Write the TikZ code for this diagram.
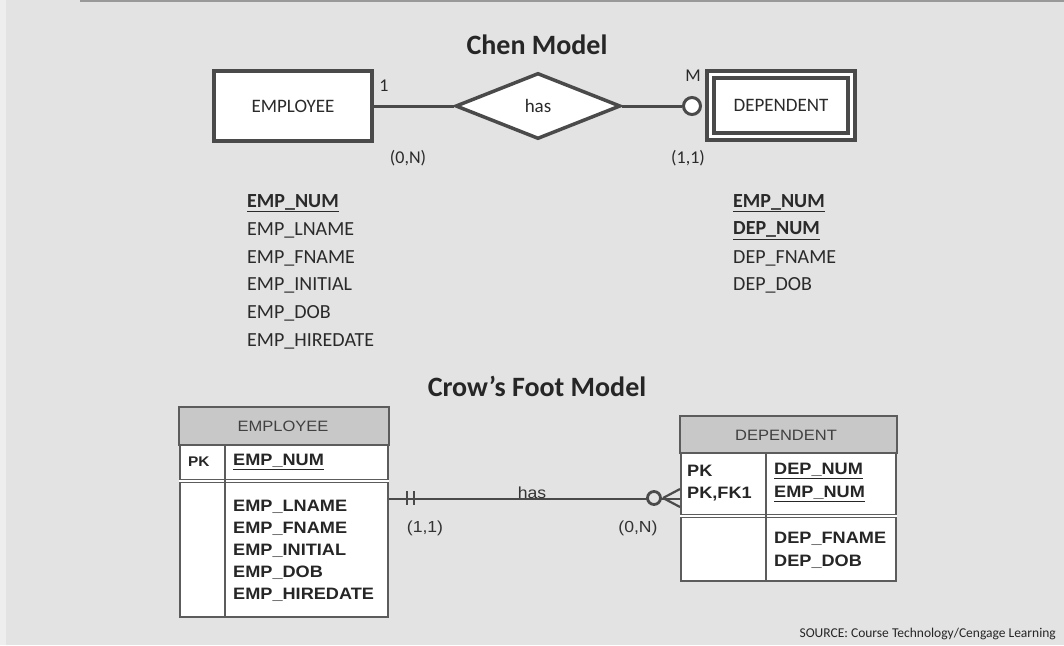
\documentclass[tikz,border=0pt]{standalone}
\usepackage{fontspec}
\setmainfont{Carlito}
\newfontfamily\tabfont[FakeStretch=1.1]{Liberation Sans}
\usepackage{xcolor}
\usepackage{tikz}
\usetikzlibrary{shapes.geometric}

\definecolor{bggray}{HTML}{E3E3E3}
\definecolor{lngray}{HTML}{4A4A4A}
\definecolor{hdgray}{HTML}{C8C8C8}
\definecolor{txgray}{HTML}{2A2A2A}

\begin{document}
\begin{tikzpicture}[x=1pt,y=1pt,
  chenbox/.style={draw=lngray,line width=3.5pt,fill=white,inner sep=0pt,
    minimum width=158pt,minimum height=70pt,text=txgray,font=\fontsize{19}{22}\selectfont},
  chenline/.style={draw=lngray,line width=3pt},
  chenlbl/.style={text=txgray,font=\fontsize{18}{20}\selectfont,inner sep=0pt},
  attr/.style={anchor=west,text=txgray,font=\fontsize{20}{22}\selectfont,inner sep=0pt},
  ttl/.style={text=black!85,font=\fontsize{28}{30}\selectfont\bfseries},
  tabbox/.style={draw=lngray!90,line width=1.8pt,fill=white,inner sep=0pt,anchor=north west},
  tabline/.style={draw=lngray!90,line width=1.8pt},
  tabtxt/.style={anchor=west,inner sep=0pt,text=black!85,font=\tabfont\fontsize{16.5}{18}\selectfont\bfseries},
  tabhead/.style={inner sep=0pt,text=black!75,font=\tabfont\fontsize{15}{17}\selectfont},
  relline/.style={draw=lngray,line width=2.8pt},
  rellbl/.style={inner sep=0pt,text=black!80,font=\tabfont\fontsize{16}{18}\selectfont}]
\useasboundingbox (0,0) rectangle (1064,-645);
% background
\fill[bggray] (0,0) rectangle (1064,-645);
\fill[white!40!bggray] (0,0) rectangle (6,-645);
\draw[gray!80,line width=2pt] (80,-1) -- (1064,-1);

% Chen model
\node[ttl] (chenttl) at (537,-45) {Chen Model};
\node[chenbox] (empc) at (293,-106) {EMPLOYEE};
\node[chenbox,line width=4pt,minimum width=148pt,minimum height=69pt] (depo) at (781,-105.5) {};
\node[chenbox,line width=4pt,minimum width=134pt,minimum height=55pt] (depc) at (depo) {DEPENDENT};
\node[diamond,aspect=2.5,draw=lngray,line width=3.5pt,fill=white,inner sep=0pt,
  minimum width=165pt,minimum height=66pt,text=txgray,font=\fontsize{19}{22}\selectfont] (hasd) at (538,-106) {has};
\node[circle,draw=lngray,line width=3pt,fill=white,minimum size=17pt,inner sep=0pt] (optc) at (692,-106) {};
\draw[chenline] (empc.east) -- (hasd.west);
\draw[chenline] (hasd.east) -- (optc.west);
\node[chenlbl] (one) at (384,-86) {1};
\node[chenlbl] (mmany) at (693,-76) {M};
\node[chenlbl] (empcard) at (408,-158) {(0,N)};
\node[chenlbl] (depcard) at (688,-158) {(1,1)};

% Chen attributes
\foreach \t [count=\i] in {{\bfseries\underline{EMP\_NUM}},EMP\_LNAME,EMP\_FNAME,EMP\_INITIAL,EMP\_DOB,EMP\_HIREDATE}
  \node[attr] (ea\i) at (247,-203-27.6*\i+27.6) {\t};
\foreach \t [count=\i] in {{\bfseries\underline{EMP\_NUM}},{\bfseries\underline{DEP\_NUM}},DEP\_FNAME,DEP\_DOB}
  \node[attr] (da\i) at (733,-203-27.6*\i+27.6) {\t};

% Crow's foot model
\node[ttl] (crowttl) at (537,-386) {Crow’s Foot Model};

% EMPLOYEE table
\node[tabbox,minimum width=208pt,minimum height=209pt] (emptab) at (179,-407) {};
\draw[tabline,fill=hdgray] (emptab.north west) rectangle (emptab.east |- 0,-445);
\draw[tabline,double=white,double distance=1.6pt,line width=1.2pt] (179,-481) -- (emptab.east |- 0,-481);
\draw[tabline] (225,-445) -- (225,-616);
\node[tabhead] (emphd) at (283,-426) {EMPLOYEE};
\node[tabtxt,font=\tabfont\fontsize{14}{16}\selectfont\bfseries] (emppk) at (188,-462) {PK};
\node[tabtxt] (empkey) at (233,-462) {\underline{EMP\_NUM}};
\foreach \t [count=\i] in {EMP\_LNAME,EMP\_FNAME,EMP\_INITIAL,EMP\_DOB,EMP\_HIREDATE}
  \node[tabtxt] (et\i) at (233,-507-22*\i+22) {\t};

% DEPENDENT table
\node[tabbox,minimum width=215pt,minimum height=164pt] (deptab) at (680,-416) {};
\draw[tabline,fill=hdgray] (deptab.north west) rectangle (deptab.east |- 0,-453);
\draw[tabline,double=white,double distance=1.6pt,line width=1.2pt] (680,-516) -- (deptab.east |- 0,-516);
\draw[tabline] (766,-453) -- (766,-580);
\node[tabhead] (dephd) at (786,-435) {DEPENDENT};
\node[tabtxt] (deppk) at (687,-471) {PK};
\node[tabtxt] (depfk) at (687,-494) {PK,FK1};
\node[tabtxt] (depkey) at (774,-471) {\underline{DEP\_NUM}};
\node[tabtxt] (depkey2) at (774,-494) {\underline{EMP\_NUM}};
\node[tabtxt] (dt1) at (774,-539) {DEP\_FNAME};
\node[tabtxt] (dt2) at (774,-562) {DEP\_DOB};

% relationship
\draw[relline] (emptab.east |- deptab.west) -- (deptab.west);
\draw[relline,line width=2.2pt] (407,-491) -- (407,-505) (414,-491) -- (414,-505);
\draw[relline,fill=bggray] (654,-498) circle (6.5);
\draw[relline,line width=2.2pt] (663,-498) -- (680,-489) (663,-498) -- (680,-507);
\node[rellbl,anchor=south] (haslbl) at (532,-499) {has};
\node[rellbl] (onecard) at (425,-528) {(1,1)};
\node[rellbl] (manycard) at (638,-528) {(0,N)};

% source
\node[anchor=east,inner sep=0pt,text=black!85,font=\fontsize{13.5}{15}\selectfont] (src) at (1056,-634)
  {SOURCE: Course Technology/Cengage Learning};
\end{tikzpicture}
\end{document}
